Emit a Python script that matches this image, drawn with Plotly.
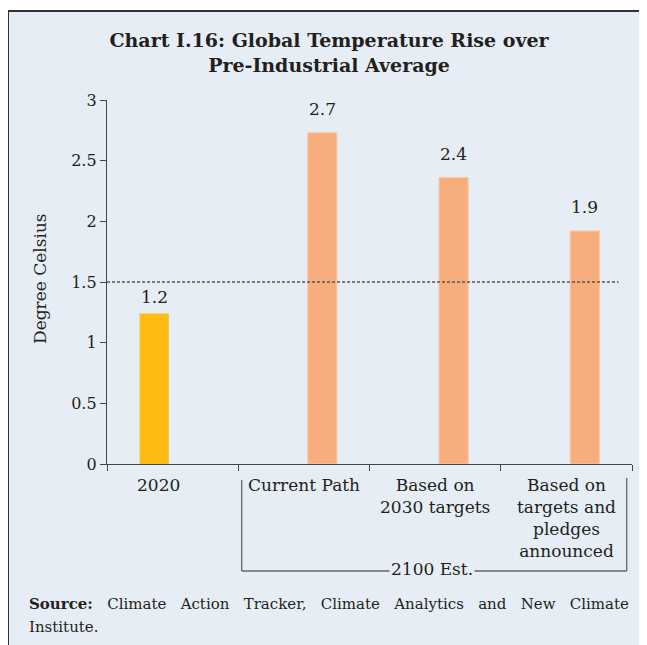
import plotly.graph_objects as go

# ---------------- data ----------------
categories = ["2020", "Current Path", "Based on 2030 targets",
              "Based on targets and pledges announced"]
tick_labels = ["2020", "Current Path", "Based on<br>2030 targets",
               "Based on<br>targets and<br>pledges<br>announced"]
series_2020 = [1.24, None, None, None]
series_2100 = [None, 2.73, 2.36, 1.92]
labels_2020 = ["1.2", None, None, None]
labels_2100 = [None, "2.7", "2.4", "1.9"]
reference_level = 1.5
y_ticks = [0, 0.5, 1, 1.5, 2, 2.5, 3]
group_label = "2100 Est."
title_text = "<b>Chart I.16: Global Temperature Rise over<br>Pre-Industrial Average</b>"
y_title = "Degree Celsius"
source_words = ["Climate", "Action", "Tracker,", "Climate", "Analytics", "and", "New", "Climate"]
source_text2 = "Institute."

# ---------------- styling ----------------
FONT = "DejaVu Serif"
TXT = "#231F20"
BG = "#E6EDF4"
YELLOW = "#FDBB13"
ORANGE = "#F7AE7C"
AXC = "#444444"

OFF = 8  # page body margin offset
W_FIG, H_FIG = 647 - OFF, 645 - OFF
ML, MR, MT, MB = 99, 15, 92, 181
L, R, T, B = ML, W_FIG - MR, MT, H_FIG - MB
PW, PH = R - L, B - T


def px(p):  # screenshot pixel -> paper x
    return (p - OFF - L) / PW


def py(q):  # screenshot pixel -> paper y
    return (B - (q - OFF)) / PH


fig = go.Figure()
fig.add_trace(go.Bar(x=categories, y=series_2020, marker=dict(color=YELLOW, line_width=0),
                     name="2020", showlegend=False))
fig.add_trace(go.Bar(x=categories, y=series_2100,
                     marker=dict(color=ORANGE, line=dict(color="#FBC7A2", width=1)),
                     name=group_label, showlegend=False))

shapes = []
# panel background and frame
shapes.append(dict(type="rect", xref="paper", yref="paper", x0=px(8), x1=px(660),
                   y0=py(11), y1=py(660), fillcolor=BG, line_width=0, layer="below"))
shapes.append(dict(type="line", xref="paper", yref="paper", x0=px(8), x1=px(8),
                   y0=py(10), y1=py(660), line=dict(color="#333333", width=2), layer="below"))
shapes.append(dict(type="line", xref="paper", yref="paper", x0=px(7), x1=px(660),
                   y0=py(11), y1=py(11), line=dict(color="#333333", width=2), layer="below"))
# reference line
shapes.append(dict(type="line", xref="x domain", yref="y", x0=0, x1=px(618.5),
                   y0=reference_level, y1=reference_level,
                   line=dict(color="#555555", width=1.5, dash="3px,2px")))
# bracket under the 2100 categories
BR_Y = py(571)
shapes.append(dict(type="line", xref="paper", yref="paper", x0=px(241.7), x1=px(241.7),
                   y0=py(480), y1=BR_Y, line=dict(color="#666666", width=1.3)))
shapes.append(dict(type="line", xref="paper", yref="paper", x0=px(626.7), x1=px(626.7),
                   y0=py(478), y1=BR_Y, line=dict(color="#666666", width=1.3)))
shapes.append(dict(type="line", xref="paper", yref="paper", x0=px(241.7), x1=px(626.7),
                   y0=BR_Y, y1=BR_Y, line=dict(color="#666666", width=1.3)))

annotations = []
# x category labels
for i, lab in enumerate(tick_labels):
    annotations.append(dict(x=i, xref="x", y=0, yref="paper", text=lab, showarrow=False,
                            xanchor="center", yanchor="top", align="center",
                            xshift=-14 if i == 0 else 0, yshift=-9,
                            font=dict(family=FONT, size=17, color=TXT)))
# value labels
for i, (v, lab) in enumerate(zip(series_2020, labels_2020)):
    if v is not None:
        annotations.append(dict(x=i, y=v, text=lab, showarrow=False, xanchor="center",
                                yanchor="bottom", xshift=-18.5, yshift=5,
                                font=dict(family=FONT, size=17, color=TXT)))
for i, (v, lab) in enumerate(zip(series_2100, labels_2100)):
    if v is not None:
        annotations.append(dict(x=i, y=v, text=lab, showarrow=False, xanchor="center",
                                yanchor="bottom", xshift=18.5, yshift=12,
                                font=dict(family=FONT, size=17, color=TXT)))
# group label
annotations.append(dict(x=px(432), y=py(569), xref="paper", yref="paper", text=group_label,
                        showarrow=False, xanchor="center", yanchor="middle", bgcolor=BG,
                        borderpad=1, font=dict(family=FONT, size=17, color=TXT)))
# y axis title
annotations.append(dict(x=px(40), y=py(279), xref="paper", yref="paper", text=y_title,
                        showarrow=False, textangle=-90, xanchor="center", yanchor="middle",
                        font=dict(family=FONT, size=17, color=TXT)))
# source (spread to look justified)
GAP = "&nbsp;&nbsp; "
source_line1 = "<b>Source:</b>" + GAP + GAP.join(source_words)
annotations.append(dict(x=px(27), y=py(593), xref="paper", yref="paper", text=source_line1,
                        showarrow=False, xanchor="left", yanchor="top", align="left",
                        font=dict(family=FONT, size=15, color=TXT)))
annotations.append(dict(x=px(27), y=py(615.5), xref="paper", yref="paper", text=source_text2,
                        showarrow=False, xanchor="left", yanchor="top", align="left",
                        font=dict(family=FONT, size=15, color=TXT)))

fig.update_layout(
    width=W_FIG, height=H_FIG,
    margin=dict(l=ML, r=MR, t=MT, b=MB, autoexpand=False),
    paper_bgcolor="white", plot_bgcolor="rgba(0,0,0,0)",
    barmode="group", bargap=0.438, bargroupgap=0.21,
    title=dict(text=title_text, x=(329 - OFF) / W_FIG, xanchor="center", xref="container",
               y=1 - (47 - OFF) / H_FIG, yanchor="top", yref="container",
               font=dict(family=FONT, size=19, color=TXT)),
    font=dict(family=FONT, size=16, color=TXT),
    xaxis=dict(type="category", categoryorder="array", categoryarray=categories,
               range=[-0.5, len(categories) - 0.5], autorange=False,
               showline=True, linecolor=AXC, linewidth=1.3,
               ticks="outside", tickson="boundaries", ticklen=6, tickcolor=AXC, tickwidth=1.3,
               showticklabels=False, showgrid=False, zeroline=False, fixedrange=True),
    yaxis=dict(range=[0, 3], tickvals=y_ticks, showline=True, linecolor=AXC, linewidth=1.3,
               ticks="outside", ticklen=6, tickcolor=AXC, tickwidth=1.3,
               tickfont=dict(family=FONT, size=16, color=TXT),
               showgrid=False, zeroline=False),
    shapes=shapes, annotations=annotations,
)

fig.write_html("out.html")
